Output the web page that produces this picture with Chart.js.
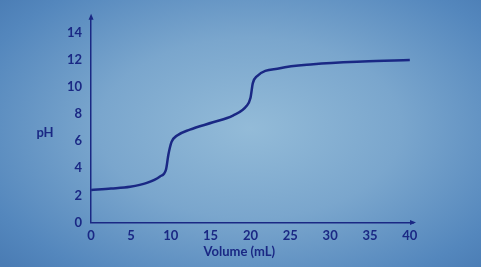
<!DOCTYPE html>
<html>
<head>
<meta charset="utf-8">
<script src="https://cdn.jsdelivr.net/npm/chart.js@4"></script>
<style>
  html, body { margin: 0; padding: 0; }
  body {
    width: 481px; height: 267px; overflow: hidden;
    background: radial-gradient(ellipse 70% 75% at 52% 48%, #93bbd8 0%, #7aa6cd 45%, #5487bd 85%, #4a7cb4 100%);
  }
  #wrap { position: relative; width: 481px; height: 267px; }
</style>
</head>
<body>
<div id="wrap"><canvas id="chartTitulacao" width="481" height="267"></canvas></div>
<script>
// curva de titulação: volume (mL) x pH
const volumes = [0, 2.5, 4.9, 7, 8.65, 9.4, 9.7, 10.1, 10.75, 12.4, 15.3, 17.8, 19.5, 20.0, 20.3, 20.8, 23.7, 27.9, 34.1, 40];
const phValores = [2.4, 2.5, 2.63, 2.92, 3.4, 3.9, 5.0, 5.95, 6.4, 6.86, 7.4, 7.9, 8.6, 9.2, 10.3, 10.8, 11.4, 11.7, 11.9, 12.0];
const xTicks = [0, 5, 10, 15, 20, 25, 30, 35, 40];
const yTicks = [0, 2, 4, 6, 8, 10, 12, 14];

const NAVY = '#1a2884';
const fonte = '"Lato", "DejaVu Sans", sans-serif';

// setas nas pontas dos eixos + rótulos "pH" e "Volume (mL)"
const eixosPlugin = {
  id: 'eixos',
  afterDraw(chart) {
    const { ctx, chartArea: a } = chart;
    ctx.save();
    ctx.fillStyle = NAVY;
    ctx.beginPath();
    ctx.moveTo(a.left, a.top - 3);
    ctx.lineTo(a.left - 2.5, a.top + 3);
    ctx.lineTo(a.left + 2.5, a.top + 3);
    ctx.closePath();
    ctx.fill();
    ctx.beginPath();
    ctx.moveTo(a.right + 3, a.bottom);
    ctx.lineTo(a.right - 3, a.bottom - 2.5);
    ctx.lineTo(a.right - 3, a.bottom + 2.5);
    ctx.closePath();
    ctx.fill();
    ctx.font = 'bold 13px ' + fonte;
    ctx.textAlign = 'center';
    ctx.textBaseline = 'middle';
    ctx.fillText('pH', 45, chart.scales.y.getPixelForValue(6.6));
    ctx.fillText('Volume (mL)', chart.scales.x.getPixelForValue(18.6), a.bottom + 29);
    ctx.restore();
  },
};

new Chart(document.getElementById('chartTitulacao'), {
  type: 'scatter',
  data: {
    datasets: [{
      data: volumes.map((v, i) => ({ x: v, y: phValores[i] })),
      showLine: true,
      borderColor: NAVY,
      borderWidth: 2.5,
      pointRadius: 0,
      cubicInterpolationMode: 'monotone',
    }],
  },
  options: {
    responsive: false,
    animation: false,
    layout: { padding: { left: 58, top: 12, right: 68, bottom: 17 } },
    plugins: { legend: { display: false }, tooltip: { enabled: false } },
    scales: {
      x: {
        type: 'linear',
        min: 0,
        max: 40.4,
        afterBuildTicks: (axis) => { axis.ticks = xTicks.map((v) => ({ value: v })); },
        grid: { display: false, drawTicks: false },
        border: { display: true, color: NAVY, width: 1.5 },
        ticks: { color: NAVY, padding: 6, maxRotation: 0, font: { family: fonte, size: 13, weight: 'bold' } },
      },
      y: {
        min: 0,
        max: 15.2,
        afterBuildTicks: (axis) => { axis.ticks = yTicks.map((v) => ({ value: v })); },
        grid: { display: false, drawTicks: false },
        border: { display: true, color: NAVY, width: 1.5 },
        ticks: { color: NAVY, padding: 9, autoSkip: false, font: { family: fonte, size: 13, weight: 'bold' } },
      },
    },
  },
  plugins: [eixosPlugin],
});
</script>
</body>
</html>
